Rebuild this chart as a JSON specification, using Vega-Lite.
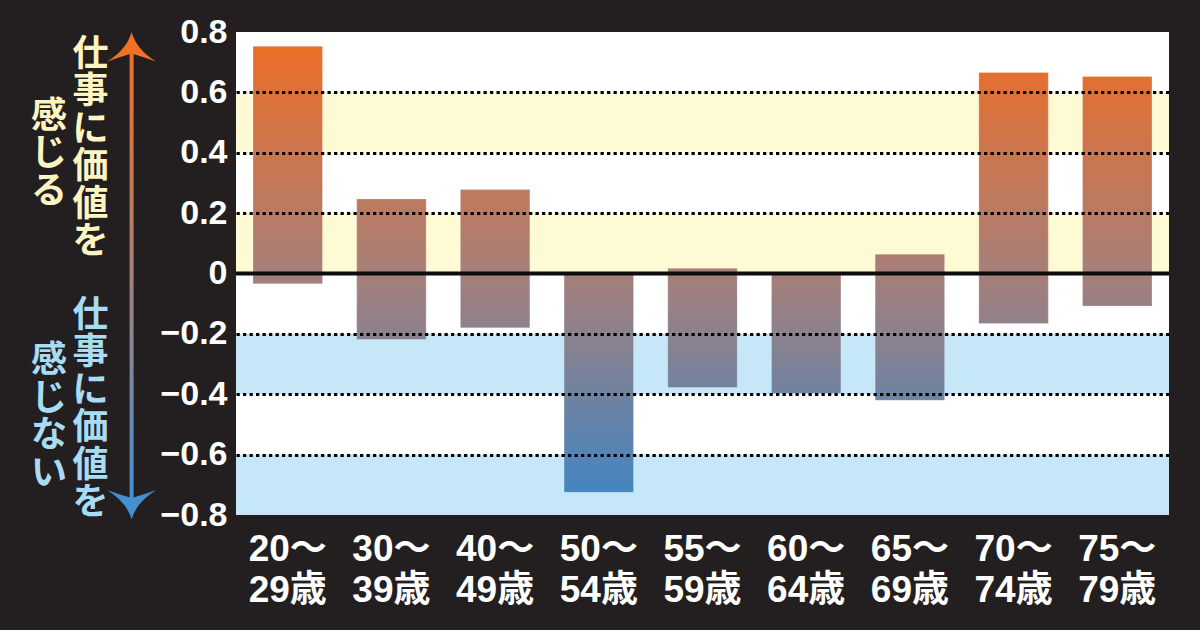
{
  "$schema": "https://vega.github.io/schema/vega-lite/v6.json",
  "background": "#231f20",
  "padding": {"left": 0, "top": 15, "right": 31, "bottom": 22},
  "spacing": 0,
  "bounds": "flush",
  "config": {
    "view": {"stroke": null},
    "axisY": {"domain": false, "ticks": false, "labelPadding": 9, "labelFont": "Liberation Sans", "labelFontSize": 34, "labelFontWeight": "bold", "labelColor": "#ffffff", "labelFlush": false, "labelOverlap": false, "gridColor": "#000000", "gridWidth": 3, "gridDash": [3.3, 3.2]}
  },
  "hconcat": [
    {
      "width": 236,
      "height": 483,
      "data": {"values": [{}]},
      "layer": [
        {
          "mark": {"type": "rect", "fill": {"gradient": "linear", "x1": 0, "x2": 0, "y1": 0, "y2": 1, "stops": [{"offset": 0, "color": "#f07024"}, {"offset": 0.5, "color": "#a68078"}, {"offset": 1, "color": "#4690d2"}]}},
          "encoding": {
            "x": {"datum": 129.6, "type": "quantitative", "scale": {"domain": [0, 236], "nice": false, "zero": false}, "axis": null},
            "x2": {"datum": 133.6},
            "y": {"datum": 0.75, "type": "quantitative", "scale": {"domain": [-0.8, 0.8], "nice": false, "zero": false}, "axis": null},
            "y2": {"datum": -0.745}
          }
        },
        {
          "mark": {"type": "point", "shape": "M0,-0.6 Q0.2,0.12 1,0.6 Q0.5,0.42 0.1,0.3 L-0.1,0.3 Q-0.5,0.42 -1,0.6 Q-0.2,0.12 0,-0.6 Z", "size": 2450, "filled": true, "color": "#f07124", "opacity": 1, "strokeWidth": 0},
          "encoding": {
            "x": {"datum": 131.6, "type": "quantitative"},
            "y": {"datum": 0.751, "type": "quantitative"}
          }
        },
        {
          "mark": {"type": "point", "shape": "M0,0.6 Q0.2,-0.12 1,-0.6 Q0.5,-0.42 0.1,-0.3 L-0.1,-0.3 Q-0.5,-0.42 -1,-0.6 Q-0.2,-0.12 0,0.6 Z", "size": 2450, "filled": true, "color": "#4490d0", "opacity": 1, "strokeWidth": 0},
          "encoding": {
            "x": {"datum": 131.6, "type": "quantitative"},
            "y": {"datum": -0.766, "type": "quantitative"}
          }
        },
        {
          "mark": {"type": "text", "text": "仕\n事\nに\n価\n値\nを", "lineBreak": "\n", "font": "Noto Sans CJK JP", "fontWeight": "bold", "fontSize": 36, "lineHeight": 37.5, "align": "center", "baseline": "middle", "color": "#fdf5c1"},
          "encoding": {
            "x": {"datum": 90.5, "type": "quantitative"},
            "y": {"datum": 0.7245, "type": "quantitative"}
          }
        },
        {
          "mark": {"type": "text", "text": "感\nじ\nる", "lineBreak": "\n", "font": "Noto Sans CJK JP", "fontWeight": "bold", "fontSize": 36, "lineHeight": 37.5, "align": "center", "baseline": "middle", "color": "#fdf5c1"},
          "encoding": {
            "x": {"datum": 49, "type": "quantitative"},
            "y": {"datum": 0.519, "type": "quantitative"}
          }
        },
        {
          "mark": {"type": "text", "text": "仕\n事\nに\n価\n値\nを", "lineBreak": "\n", "font": "Noto Sans CJK JP", "fontWeight": "bold", "fontSize": 36, "lineHeight": 37.5, "align": "center", "baseline": "middle", "color": "#a8dcf4"},
          "encoding": {
            "x": {"datum": 90.5, "type": "quantitative"},
            "y": {"datum": -0.14, "type": "quantitative"}
          }
        },
        {
          "mark": {"type": "text", "text": "感\nじ\nな\nい", "lineBreak": "\n", "font": "Noto Sans CJK JP", "fontWeight": "bold", "fontSize": 36, "lineHeight": 37.5, "align": "center", "baseline": "middle", "color": "#a8dcf4"},
          "encoding": {
            "x": {"datum": 49, "type": "quantitative"},
            "y": {"datum": -0.29, "type": "quantitative"}
          }
        }
      ]
    },
    {
      "width": 933,
      "height": 483,
      "view": {"fill": "#ffffff", "stroke": null},
      "layer": [
        {
          "data": {"values": [
            {"from": 0.4, "to": 0.6, "zone": "positive"},
            {"from": 0.0, "to": 0.2, "zone": "positive"},
            {"from": -0.4, "to": -0.2, "zone": "negative"},
            {"from": -0.8, "to": -0.6, "zone": "negative"}
          ]},
          "mark": {"type": "rect"},
          "encoding": {
            "x": {"value": 0},
            "x2": {"value": "width"},
            "y": {"field": "from", "type": "quantitative", "scale": {"domain": [-0.8, 0.8], "nice": false, "zero": false},
              "axis": {"title": null, "values": [0.8, 0.6, 0.4, 0.2, 0, -0.2, -0.4, -0.6, -0.8], "format": ".1~f", "grid": true, "gridOpacity": {"condition": {"test": "datum.value == 0 || abs(datum.value) > 0.7", "value": 0}, "value": 1}, "zindex": 1}},
            "y2": {"field": "to"},
            "color": {"field": "zone", "type": "nominal", "scale": {"domain": ["positive", "negative"], "range": ["#fefad3", "#c5e7f8"]}, "legend": null}
          }
        },
        {
          "data": {"values": [
            {"age": "20〜29歳", "lo": -0.034, "hi": 0.753},
            {"age": "30〜39歳", "lo": -0.219, "hi": 0.247},
            {"age": "40〜49歳", "lo": -0.18, "hi": 0.278},
            {"age": "50〜54歳", "lo": -0.725, "hi": 0.0},
            {"age": "55〜59歳", "lo": -0.378, "hi": 0.017},
            {"age": "60〜64歳", "lo": -0.397, "hi": 0.0},
            {"age": "65〜69歳", "lo": -0.42, "hi": 0.064},
            {"age": "70〜74歳", "lo": -0.166, "hi": 0.666},
            {"age": "75〜79歳", "lo": -0.108, "hi": 0.653}
          ]},
          "mark": {"type": "bar", "stroke": "#ffffff", "strokeOpacity": 0.3, "strokeWidth": 0.8,
            "fill": {"expr": "{gradient: 'linear', x1: 0, x2: 0, y1: (datum.hi - 0.8) / (datum.hi - datum.lo), y2: (datum.hi + 0.8) / (datum.hi - datum.lo), stops: [{offset: 0, color: '#f06c22'}, {offset: 0.5, color: '#a67f79'}, {offset: 1, color: '#3a86c8'}]}"}},
          "encoding": {
            "x": {"field": "age", "type": "nominal", "sort": null, "scale": {"paddingInner": 0.33, "paddingOuter": 0.164},
              "axis": {"title": null, "labelAngle": 0, "domain": false, "ticks": false, "labelPadding": 16, "labelFont": "Liberation Sans, Noto Sans CJK JP", "labelFontSize": 37, "labelFontWeight": "bold", "labelColor": "#ffffff", "labelBaseline": "top", "labelLineHeight": 41, "labelOverlap": false, "labelBound": false, "labelFlush": false, "labelExpr": "[split(datum.label, '〜')[0] + '〜', split(datum.label, '〜')[1]]"}},
            "y": {"field": "hi", "type": "quantitative",
              "axis": {"title": null, "values": [0.8, 0.6, 0.4, 0.2, 0, -0.2, -0.4, -0.6, -0.8], "format": ".1~f", "grid": true, "gridOpacity": {"condition": {"test": "datum.value == 0 || abs(datum.value) > 0.7", "value": 0}, "value": 1}, "zindex": 1}},
            "y2": {"field": "lo"}
          }
        },
        {
          "data": {"values": [{}]},
          "mark": {"type": "rule", "color": "#0d0d0d", "strokeWidth": 4},
          "encoding": {
            "y": {"datum": 0, "type": "quantitative",
              "axis": {"title": null, "values": [0.8, 0.6, 0.4, 0.2, 0, -0.2, -0.4, -0.6, -0.8], "format": ".1~f", "grid": true, "gridOpacity": {"condition": {"test": "datum.value == 0 || abs(datum.value) > 0.7", "value": 0}, "value": 1}, "zindex": 1}}
          }
        }
      ]
    }
  ]
}
